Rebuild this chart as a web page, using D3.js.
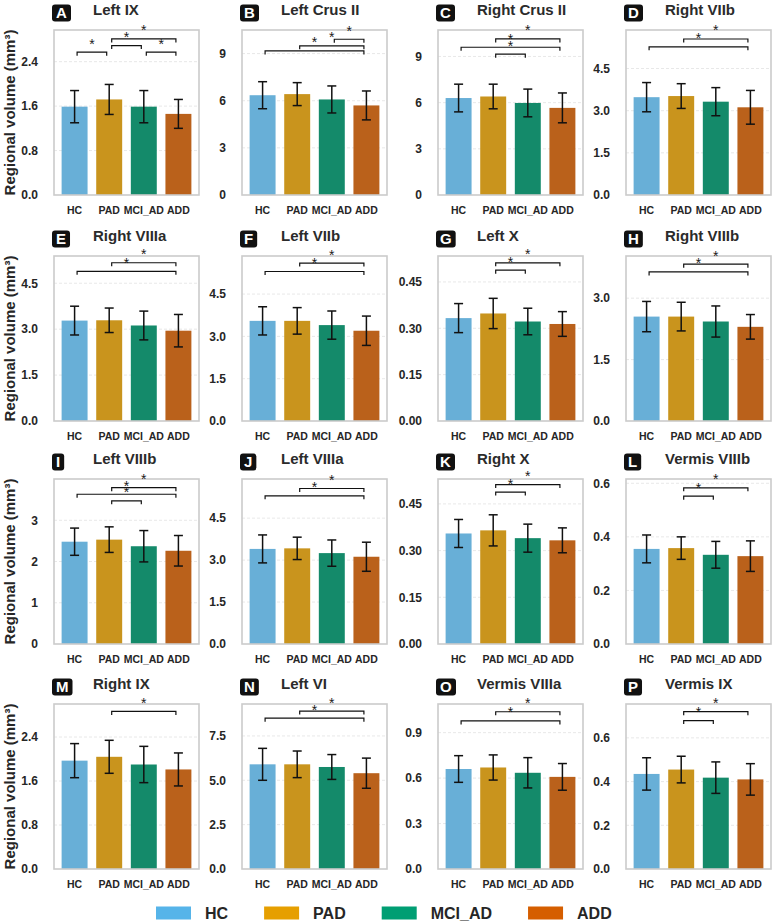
<!DOCTYPE html>
<html>
<head>
<meta charset="utf-8">
<script src="https://cdn.jsdelivr.net/npm/d3@7"></script>
<style>
  body { margin: 0; background: #fff; }
  svg { display: block; font-family: "Liberation Sans", Arial, sans-serif; }
</style>
</head>
<body>
<script>
// groups and colours
const groups = ["HC", "PAD", "MCI_AD", "ADD"];
const legendColors = ["#56B4E9", "#E69F00", "#009E73", "#D55E00"];
const barColors = ["#68afd7", "#c9941d", "#148a6a", "#ba611b"];

// panels, in reading order
const letters = ["A","B","C","D","E","F","G","H","I","J","K","L","M","N","O","P"];
const regions = ["Left IX", "Left Crus II", "Right Crus II", "Right VIIb",
  "Right VIIIa", "Left VIIb", "Left X", "Right VIIIb",
  "Left VIIIb", "Left VIIIa", "Right X", "Vermis VIIIb",
  "Right IX", "Left VI", "Vermis VIIIa", "Vermis IX"];

// mean volume per group (HC, PAD, MCI_AD, ADD)
const means = [
  [1.59, 1.72, 1.59, 1.46], [6.35, 6.42, 6.08, 5.70], [6.30, 6.40, 5.98, 5.66], [3.48, 3.52, 3.32, 3.12],
  [3.28, 3.29, 3.12, 2.95], [3.55, 3.55, 3.40, 3.20], [0.333, 0.348, 0.322, 0.314], [2.55, 2.55, 2.43, 2.30],
  [2.48, 2.53, 2.37, 2.26], [3.40, 3.42, 3.25, 3.12], [0.355, 0.365, 0.340, 0.333], [0.355, 0.358, 0.333, 0.328],
  [1.97, 2.04, 1.90, 1.81], [5.90, 5.90, 5.75, 5.40], [0.66, 0.67, 0.635, 0.608], [0.435, 0.455, 0.418, 0.41]
];
// standard deviation per group
const sds = [
  [0.29, 0.27, 0.29, 0.26], [0.86, 0.73, 0.86, 0.92], [0.90, 0.80, 0.90, 0.97], [0.52, 0.44, 0.50, 0.60],
  [0.47, 0.40, 0.47, 0.53], [0.50, 0.47, 0.50, 0.52], [0.047, 0.049, 0.043, 0.040], [0.37, 0.35, 0.38, 0.30],
  [0.33, 0.31, 0.38, 0.37], [0.50, 0.40, 0.47, 0.52], [0.045, 0.050, 0.045, 0.040], [0.052, 0.042, 0.050, 0.057],
  [0.31, 0.30, 0.33, 0.30], [0.90, 0.75, 0.70, 0.85], [0.088, 0.083, 0.100, 0.088], [0.074, 0.061, 0.072, 0.072]
];
// y axis extent and ticks
const yMax = [2.97, 10.5, 10.72, 5.87, 5.39, 5.85, 0.534, 4.03, 4.0, 5.9, 0.53, 0.616, 3.0, 9.3, 1.089, 0.755];
const yTicks = [
  [0, 0.8, 1.6, 2.4], [0, 3, 6, 9], [0, 3, 6, 9], [0, 1.5, 3, 4.5],
  [0, 1.5, 3, 4.5], [0, 1.5, 3, 4.5], [0, 0.15, 0.30, 0.45], [0, 1.5, 3],
  [0, 1, 2, 3], [0, 1.5, 3, 4.5], [0, 0.15, 0.30, 0.45], [0, 0.2, 0.4, 0.6],
  [0, 0.8, 1.6, 2.4], [0, 2.5, 5, 7.5], [0, 0.3, 0.6, 0.9], [0, 0.2, 0.4, 0.6]
];
const tickDecimals = [1, 0, 0, 1, 1, 1, 2, 1, 0, 1, 2, 1, 1, 1, 1, 1];
// significant pairs (group indices) and the height of each bracket
const sigPairs = [
  [[0,1],[1,2],[1,3],[2,3]], [[0,3],[1,3],[2,3]], [[0,3],[1,3],[1,2]], [[0,3],[1,3]],
  [[0,3],[1,3]], [[0,3],[1,3]], [[1,2],[1,3]], [[0,3],[1,3]],
  [[0,3],[1,3],[1,2]], [[0,3],[1,3]], [[1,2],[1,3]], [[1,2],[1,3]],
  [[1,3]], [[0,3],[1,3]], [[0,3],[1,3]], [[1,2],[1,3]]
];
const sigLevels = [
  [2.57, 2.69, 2.81, 2.57], [9.17, 9.49, 9.91], [9.6, 10.14, 9.15], [5.27, 5.55],
  [4.89, 5.17], [5.3, 5.6], [0.488, 0.512], [3.64, 3.83],
  [3.63, 3.79, 3.47], [5.3, 5.56], [0.488, 0.512], [0.552, 0.583],
  [2.865], [8.5, 8.9], [0.977, 1.038], [0.679, 0.72]
];

const W = 772, H = 922;
const colLeft = [54, 242, 438, 626];
const rowTop = [30, 256, 479, 704];
const pw = 145, ph = 165;
const dark = "#262626";

const svg = d3.select("body").append("svg")
    .attr("width", W)
    .attr("height", H);

regions.forEach((name, i) => {
  const left = colLeft[i % 4], top = rowTop[Math.floor(i / 4)];
  const x = d3.scaleBand().domain(groups).range([left, left + pw])
      .paddingInner(0.25).paddingOuter(0.22);
  const y = d3.scaleLinear().domain([0, yMax[i]]).range([top + ph, top]);
  const g = svg.append("g");

  // dashed grid
  g.append("g")
    .selectAll("line")
    .data(yTicks[i].filter(t => t > 0))
    .join("line")
      .attr("x1", left).attr("x2", left + pw)
      .attr("y1", d => y(d)).attr("y2", d => y(d))
      .attr("stroke", "#e2e2e2")
      .attr("stroke-width", 0.8)
      .attr("stroke-dasharray", "3,2");

  // bars
  g.append("g")
    .selectAll("rect")
    .data(means[i])
    .join("rect")
      .attr("x", (d, k) => x(groups[k]))
      .attr("y", d => y(d))
      .attr("width", x.bandwidth())
      .attr("height", d => y(0) - y(d))
      .attr("fill", (d, k) => barColors[k]);

  // error bars
  const eb = g.append("g")
      .attr("stroke", "#111")
      .attr("stroke-width", 1.5)
    .selectAll("g")
    .data(means[i].map((m, k) => ({m, s: sds[i][k], k})))
    .join("g")
      .attr("transform", d => `translate(${x(groups[d.k]) + x.bandwidth() / 2},0)`);
  eb.append("line")
      .attr("y1", d => y(d.m - d.s)).attr("y2", d => y(d.m + d.s));
  eb.append("line")
      .attr("x1", -4.5).attr("x2", 4.5)
      .attr("y1", d => y(d.m + d.s)).attr("y2", d => y(d.m + d.s));
  eb.append("line")
      .attr("x1", -4.5).attr("x2", 4.5)
      .attr("y1", d => y(d.m - d.s)).attr("y2", d => y(d.m - d.s));

  // frame
  g.append("rect")
      .attr("x", left).attr("y", top)
      .attr("width", pw).attr("height", ph)
      .attr("fill", "none")
      .attr("stroke", "#cbcbcb")
      .attr("stroke-width", 1.6);

  // y ticks
  g.append("g")
      .attr("font-size", 12)
      .attr("font-weight", "bold")
      .attr("fill", dark)
      .attr("text-anchor", "end")
    .selectAll("text")
    .data(yTicks[i])
    .join("text")
      .attr("x", left - 16)
      .attr("y", d => y(d))
      .attr("dy", "0.36em")
      .text(d => d3.format(`.${tickDecimals[i]}f`)(d));

  // x labels
  g.append("g")
      .attr("font-size", 10.5)
      .attr("font-weight", "bold")
      .attr("fill", dark)
      .attr("text-anchor", "middle")
    .selectAll("text")
    .data(groups)
    .join("text")
      .attr("x", d => x(d) + x.bandwidth() / 2)
      .attr("y", top + ph + 19)
      .text(d => d);

  // significance brackets
  const br = g.append("g")
    .selectAll("g")
    .data(sigPairs[i].map((p, k) => ({a: p[0], b: p[1], v: sigLevels[i][k]})))
    .join("g");
  const cx = k => x(groups[k]) + x.bandwidth() / 2;
  br.append("path")
      .attr("fill", "none")
      .attr("stroke", "#111")
      .attr("stroke-width", 1.2)
      .attr("d", d => {
        const x1 = cx(d.a) + 2.5, x2 = cx(d.b) - 2.5, yy = y(d.v);
        return `M${x1},${yy + 3.5}V${yy}H${x2}V${yy + 3.5}`;
      });
  br.append("text")
      .attr("x", d => (cx(d.a) + cx(d.b)) / 2)
      .attr("y", d => y(d.v) - 3.5)
      .attr("text-anchor", "middle")
      .attr("font-size", 14)
      .style("fill", "#1a1a1a")
      .text("*");

  // panel letter in a black box
  const lt = g.append("text")
      .attr("x", left + 2)
      .attr("y", top - 12.5)
      .attr("font-size", 15)
      .attr("font-weight", "bold")
      .attr("fill", "#fff")
      .text(letters[i]);
  const bb = lt.node().getBBox();
  g.insert("rect", () => lt.node())
      .attr("x", left - 2)
      .attr("y", top - 25.5)
      .attr("width", bb.width + 8)
      .attr("height", 17)
      .attr("rx", 3)
      .attr("fill", "#111");

  // title
  g.append("text")
      .attr("x", left + 39)
      .attr("y", top - 15)
      .attr("font-size", 15)
      .attr("font-weight", "bold")
      .attr("fill", "#2b2b2b")
      .text(name);

  // y axis title on first column
  if (i % 4 === 0) {
    g.append("text")
        .attr("transform", `translate(15,${top + ph / 2}) rotate(-90)`)
        .attr("text-anchor", "middle")
        .attr("font-size", 15)
        .attr("font-weight", "bold")
        .attr("fill", dark)
        .text("Regional volume (mm³)");
  }
});

// legend
const lg = svg.append("g");
let lx = 156;
groups.forEach((grp, k) => {
  lg.append("rect")
      .attr("x", lx).attr("y", 906.5)
      .attr("width", 35).attr("height", 13)
      .attr("fill", legendColors[k]);
  const t = lg.append("text")
      .attr("x", lx + 49).attr("y", 918.5)
      .attr("font-size", 16)
      .attr("font-weight", "bold")
      .attr("fill", dark)
      .text(grp);
  lx += 49 + t.node().getComputedTextLength() + 36;
});
</script>
</body>
</html>
